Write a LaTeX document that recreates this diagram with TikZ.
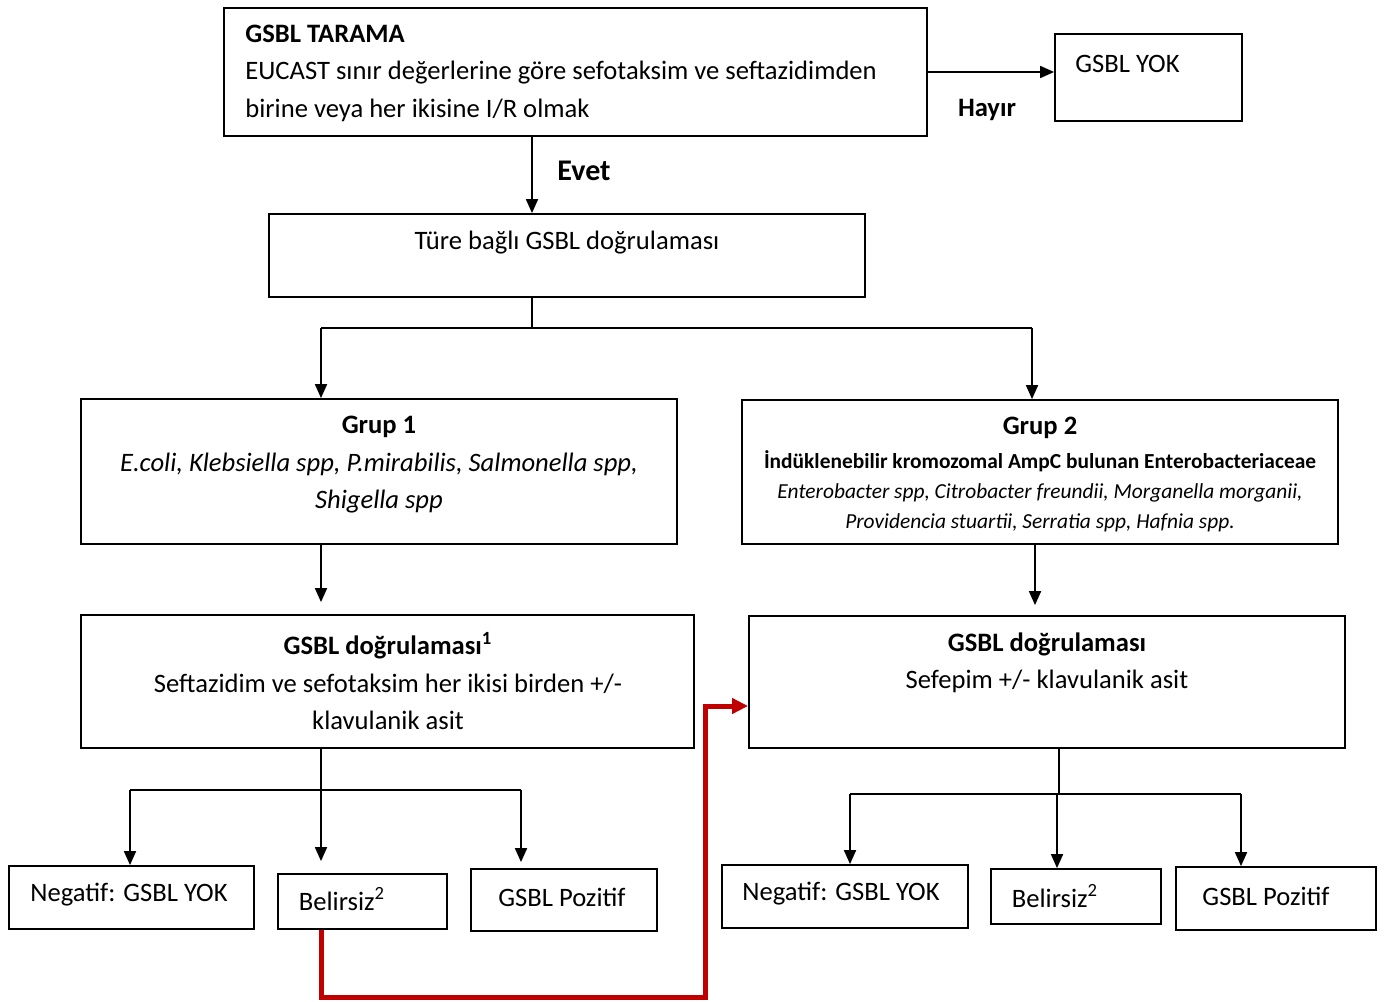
\documentclass[tikz,border=0pt]{standalone}
\usepackage{fontspec}
\setmainfont{Carlito}
\usetikzlibrary{arrows.meta}

\definecolor{redline}{HTML}{C00000}
\newcommand{\pxu}{0.5pt}
\newcommand{\bx}[5]{\node[box, minimum width={(#4-#2)*\pxu}, minimum height={(#5-#3)*\pxu}] (#1) at ({(#2+#4)/2}, {(#3+#5)/2}) {};}
\newcommand{\tx}{\node[txt]}

\tikzset{
  box/.style={draw, line width=0.9pt, inner sep=0pt},
  txt/.style={inner sep=0pt, align=center, font=\fontsize{13.3}{18.75}\selectfont},
  small/.style={inner sep=0pt, align=center, font=\fontsize{10.7}{15}\selectfont},
  arr/.style={-{Triangle[length=7pt,width=6pt]}, line width=0.9pt},
  redarr/.style={-{Triangle[length=8pt,width=7.5pt]}, line width=2.5pt, draw=redline, color=redline}
}

\begin{document}
\begin{tikzpicture}[x=\pxu, y=-\pxu]
    \useasboundingbox (0,0) rectangle (1385,1001);

    \bx{tarama}{224}{8}{927}{136}
    \bx{yok}{1055}{34}{1242}{121}
    \bx{tur}{269}{214}{865}{297}
    \bx{grup1}{81}{399}{677}{544}
    \bx{grup2}{742}{400}{1338}{544}
    \bx{dogr1}{81}{615}{694}{748}
    \bx{dogr2}{749}{616}{1345}{748}
    \bx{neg1}{9}{866}{254}{929}
    \bx{bel1}{278}{874}{447}{929}
    \bx{pos1}{471}{869}{657}{931}
    \bx{neg2}{722}{865}{968}{928}
    \bx{bel2}{991}{869}{1161}{924}
    \bx{pos2}{1176}{867}{1376}{930}

    \tx[anchor=west, align=left] (t-tarama) at (245, 73) {\textbf{GSBL TARAMA}\\
        EUCAST sınır değerlerine göre sefotaksim ve seftazidimden\\
        birine veya her ikisine I/R olmak};
    \tx[anchor=west] (t-yok) at (1075, 64) {GSBL YOK};
    \tx (hayir) at (987, 110) {\textbf{Hayır}};
    \tx[font=\fontsize{15}{17}\selectfont] (evet) at (584, 171) {\textbf{Evet}};
    \tx (t-tur) at (567, 243) {Türe bağlı GSBL doğrulaması};
    \tx (t-grup1) at (379, 465) {\textbf{Grup 1}\\
        \textit{E.coli, Klebsiella spp, P.mirabilis, Salmonella spp,}\\
        \textit{Shigella spp}};
    \tx (t-grup2) at (1040, 428) {\textbf{Grup 2}};
    \node[small] (t-grup2b) at (1040, 491) {\textbf{İndüklenebilir kromozomal AmpC bulunan Enterobacteriaceae}\\
        \textit{Enterobacter spp, Citrobacter freundii, Morganella morganii,}\\
        \textit{Providencia stuartii, Serratia spp, Hafnia spp.}};
    \tx (t-dogr1) at (388, 681) {\textbf{GSBL doğrulaması}\textsuperscript{\textbf{1}}\\
        Seftazidim ve sefotaksim her ikisi birden +/-\\
        klavulanik asit};
    \tx (t-dogr2) at (1047, 663) {\textbf{GSBL doğrulaması}\\
        Sefepim +/- klavulanik asit};
    \tx (t-neg1) at (129, 895) {Negatif: GSBL YOK};
    \tx (t-bel1) at (342, 899) {Belirsiz\textsuperscript{2}};
    \tx (t-pos1) at (562, 897) {GSBL Pozitif};
    \tx (t-neg2) at (841, 894) {Negatif: GSBL YOK};
    \tx (t-bel2) at (1055, 896) {Belirsiz\textsuperscript{2}};
    \tx (t-pos2) at (1266, 896) {GSBL Pozitif};

    % split points
    \coordinate (s0) at (532, 328);
    \coordinate (s1l) at (321, 328);
    \coordinate (s1r) at (1032, 328);
    \coordinate (s2r) at (1035, 328);
    \coordinate (s3) at (321, 790);
    \coordinate (s3l) at (130, 790);
    \coordinate (s3r) at (521, 790);
    \coordinate (s4) at (1059, 794);
    \coordinate (s4l) at (850, 794);
    \coordinate (s4m) at (1057, 794);
    \coordinate (s4r) at (1241, 794);
    \coordinate (rb) at (705, 997);
    \coordinate (rt) at (705, 706);

    \draw[arr] (tarama.east) -- (tarama.east -| yok.west);
    \draw[arr] (tarama.south -| s0) -- (tur.north -| s0);
    \draw[arr, shorten >=6pt] (grup1.south -| s1l) -- (dogr1.north -| s1l);
    \draw[arr, shorten >=5pt] (grup2.south -| s2r) -- (dogr2.north -| s2r);
    \draw[arr]
        (s1l) -- (s1l |- grup1.north);
    \draw[arr]
        (s1r) -- (s1r |- grup2.north);
    \draw[arr] (s3l) -- (s3l |- neg1.north);
    \draw[arr, shorten >=6pt] (s3) -- (s3 |- bel1.north);
    \draw[arr, shorten >=3pt] (s3r) -- (s3r |- pos1.north);
    \draw[arr] (s4l) -- (s4l |- neg2.north);
    \draw[arr] (s4m) -- (s4m |- bel2.north);
    \draw[arr] (s4r) -- (s4r |- pos2.north);

    \draw[line width=0.9pt]
        (tur.south -| s0) -- (s0)
        (s1l) -- (s1r)
        (dogr1.south -| s3) -- (s3)
        (s3l) -- (s3r)
        (dogr2.south -| s4) -- (s4)
        (s4l) -- (s4r)
        ;

    \draw[redarr] (bel1.south -| s1l) |- (rb) -- (rt) -- (rt -| dogr2.west);
\end{tikzpicture}
\end{document}
